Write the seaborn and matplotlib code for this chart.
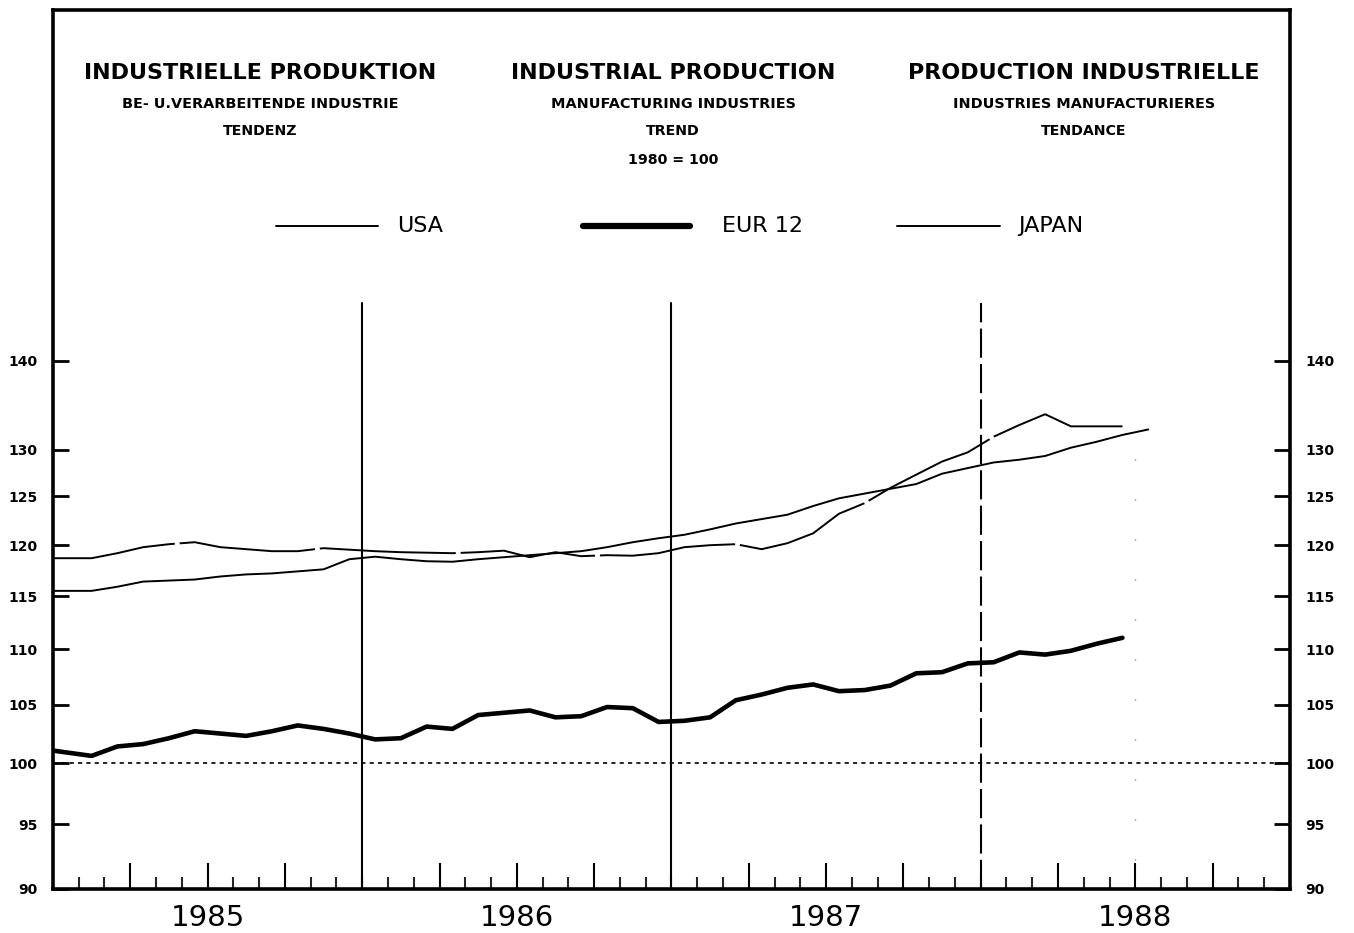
import numpy as np
import pandas as pd
import matplotlib
matplotlib.use('Agg')
import matplotlib.pyplot as plt
import seaborn as sns
from matplotlib.lines import Line2D
from matplotlib.ticker import FixedLocator, FixedFormatter, NullLocator

# monthly trend, 1980 = 100; first value is Dec 1984, one value per month
eur12 = [101.2, 100.9, 100.6, 101.4, 101.6, 102.1, 102.7, 102.5, 102.3, 102.7,
         103.2, 102.9, 102.5, 102.0, 102.1, 103.1, 102.9, 104.1, 104.3, 104.5,
         103.9, 104.0, 104.8, 104.7, 103.5, 103.6, 103.9, 105.4, 105.9, 106.5,
         106.8, 106.2, 106.3, 106.7, 107.8, 107.9, 108.7, 108.8, 109.7, 109.5,
         109.85, 110.5, 111.05]
usa = [115.5, 115.5, 115.5, 115.9, 116.4, 116.5, 116.6, 116.9, 117.1, 117.2,
       117.4, 117.6, 118.6, 118.85, 118.6, 118.4, 118.35, 118.6, 118.8, 119.0,
       119.2, 119.4, 119.8, 120.3, 120.7, 121.05, 121.6, 122.2, 122.65, 123.1,
       124.0, 124.8, 125.3, 125.8, 126.3, 127.4, 128.0, 128.6, 128.9, 129.3,
       130.2, 130.85, 131.6, 132.2]
japan = [118.7, 118.7, 118.7, 119.2, 119.8, 120.1, 120.3, 119.8, 119.6, 119.4,
         119.4, 119.7, 119.55, 119.4, 119.3, 119.25, 119.2, 119.3, 119.45, 118.8,
         119.3, 118.9, 119.0, 118.95, 119.2, 119.8, 120.0, 120.1, 119.6, 120.2,
         121.2, 123.2, 124.3, 125.9, 127.3, 128.7, 129.7, 131.4, 132.7, 133.9,
         132.55, 132.55, 132.55]

years = ['1985', '1986', '1987', '1988']
y_ticks = [90, 95, 100, 105, 110, 115, 120, 125, 130, 140]


def series_frame(vals):
    # months counted from Jan 1985, plotted at mid-month
    return pd.DataFrame({'month': np.arange(len(vals)) - 0.5, 'value': vals})


sns.set_theme(style='white')
plt.rcParams['font.family'] = ['DejaVu Sans']

fig = plt.figure(figsize=(13.54, 9.33), dpi=100)
ax = fig.add_axes([0.0391, 0.0472, 0.9136, 0.9421])
ax.set_yscale('log')

sns.lineplot(data=series_frame(usa), x='month', y='value', ax=ax,
             color='black', linewidth=1.4)
sns.lineplot(data=series_frame(japan), x='month', y='value', ax=ax,
             color='black', linewidth=1.4, linestyle=(0, (70, 2.5)))
sns.lineplot(data=series_frame(eur12), x='month', y='value', ax=ax,
             color='black', linewidth=3.3)

ax.set_xlim(0, 48)
ax.set_ylim(90, 187.8)
ax.set_xlabel('')
ax.set_ylabel('')

# year boundaries and base line
for m in [12, 24]:
    ax.axvline(m, ymin=0, ymax=0.667, color='black', linewidth=1.5)
ax.axvline(36, ymin=0, ymax=0.667, color='black', linewidth=1.5,
           linestyle=(0, (14, 3)))
ax.axvline(42, ymin=0.033, ymax=0.51, color='0.45', linewidth=1,
           linestyle=(0, (0.8, 28)))
ax.axhline(100, color='black', linewidth=1.2, linestyle=(0, (2.5, 2.5)))

# y axis: ticks on both sides
ax.yaxis.set_major_locator(FixedLocator(y_ticks))
ax.yaxis.set_major_formatter(FixedFormatter([str(t) for t in y_ticks]))
ax.yaxis.set_minor_locator(NullLocator())
ax.tick_params(axis='y', which='major', direction='in', length=11.5, width=2,
               left=True, right=True, labelleft=True, labelright=True,
               pad=11, labelsize=10, colors='black')
for t in ax.yaxis.get_major_ticks():
    t.label1.set_fontweight('bold')
    t.label2.set_fontweight('bold')

# x axis: monthly ticks, taller each quarter, year names mid-year
quarters = [3, 6, 9, 15, 18, 21, 27, 30, 33, 39, 42, 45]
ax.xaxis.set_major_locator(FixedLocator(quarters))
ax.xaxis.set_major_formatter(FixedFormatter(
    [years[i // 3] if i % 3 == 1 else '' for i in range(len(quarters))]))
ax.xaxis.set_minor_locator(FixedLocator(range(1, 48)))
ax.tick_params(axis='x', which='major', direction='in', length=18.5, width=1.5,
               bottom=True, top=False, pad=11, labelsize=21, colors='black')
ax.tick_params(axis='x', which='minor', direction='in', length=8.5, width=1.5,
               bottom=True, top=False)

for s in ax.spines.values():
    s.set_color('black')
    s.set_linewidth(2.6)

# titles
W, H = 1354, 933
cols = [260, 673, 1084]
rows = [
    (73, 16, ['INDUSTRIELLE PRODUKTION', 'INDUSTRIAL PRODUCTION', 'PRODUCTION INDUSTRIELLE']),
    (104, 10.4, ['BE- U.VERARBEITENDE INDUSTRIE', 'MANUFACTURING INDUSTRIES', 'INDUSTRIES MANUFACTURIERES']),
    (131, 10.2, ['TENDENZ', 'TREND', 'TENDANCE']),
    (160, 10.2, ['', '1980 = 100', '']),
]
for ypx, size, texts in rows:
    for xpx, txt in zip(cols, texts):
        if txt:
            fig.text(xpx / W, 1 - ypx / H, txt, ha='center', va='center',
                     fontsize=size, fontweight='bold', color='black')

# legend drawn by hand
legend_y = 1 - 226 / H
legend_items = [
    ('USA', 276, 378, 397, 1.4),
    ('EUR 12', 583, 690, 722, 4.5),
    ('JAPAN', 897, 1000, 1018, 1.4),
]
for name, x0, x1, xt, lw in legend_items:
    fig.add_artist(Line2D([x0 / W, x1 / W], [legend_y, legend_y],
                          transform=fig.transFigure, color='black', linewidth=lw))
    fig.text(xt / W, legend_y, name, ha='left', va='center', fontsize=16,
             color='black')

fig.savefig('out.png', dpi=100, facecolor='white')
